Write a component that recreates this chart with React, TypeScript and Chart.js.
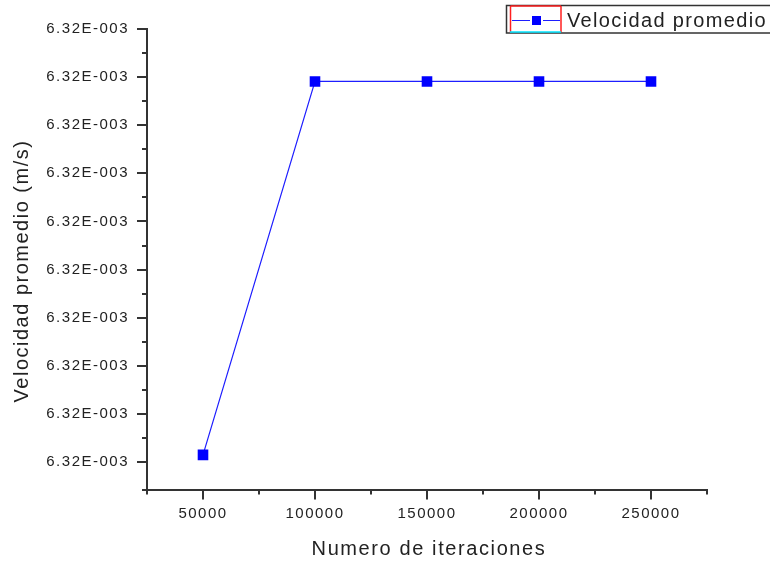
import React, { useEffect, useRef } from "react";
import { Chart, registerables } from "chart.js";
Chart.register(...registerables);

const iterations = [50000, 100000, 150000, 200000, 250000];
const velocity = [0.00632000015, 0.00632000791, 0.00632000791, 0.00632000791, 0.00632000791];
const seriesLabel = "Velocidad promedio";
const xTitle = "Numero de iteraciones";
const yTitle = "Velocidad promedio (m/s)";
const xTicks = [50000, 100000, 150000, 200000, 250000];
const xMinorTicks = [25000, 75000, 125000, 175000, 225000, 275000];
const yTicks = [
  0.00632, 0.006320001, 0.006320002, 0.006320003, 0.006320004,
  0.006320005, 0.006320006, 0.006320007, 0.006320008, 0.006320009,
];
const yMinorTicks = [
  0.00631999943, 0.0063200005, 0.0063200015, 0.0063200025, 0.0063200035,
  0.0063200045, 0.0063200055, 0.0063200065, 0.0063200075, 0.0063200085,
];
const X_MIN = 25000;
const X_MAX = 275000;
const Y_MIN = 0.00631999943;
const Y_MAX = 0.006320009;

const FONT = '"Liberation Sans", Arial, sans-serif';
const AXIS_COLOR = "#333333";
const TEXT_COLOR = "#222222";

function formatOrigin(v: number): string {
  const s = v.toExponential(2);
  const [m, e] = s.split("e");
  const exp = parseInt(e, 10);
  const sign = exp < 0 ? "-" : "+";
  return m.toUpperCase() + "E" + sign + String(Math.abs(exp)).padStart(3, "0");
}

const decorPlugin = {
  id: "decor",
  beforeLayout(chart: any) {
    chart.ctx.letterSpacing = "1.5px";
  },
  beforeDraw(chart: any) {
    const ctx = chart.ctx;
    ctx.save();
    ctx.fillStyle = "#ffffff";
    ctx.fillRect(0, 0, chart.width, chart.height);
    ctx.restore();
    ctx.letterSpacing = "1.5px";
  },
  afterDraw(chart: any) {
    const ctx = chart.ctx;
    const area = chart.chartArea;
    const xs = chart.scales.x;
    const ys = chart.scales.y;
    ctx.save();
    // minor ticks
    ctx.strokeStyle = AXIS_COLOR;
    ctx.lineWidth = 2;
    ctx.beginPath();
    for (const v of xMinorTicks) {
      const px = Math.round(xs.getPixelForValue(v));
      ctx.moveTo(px, area.bottom);
      ctx.lineTo(px, area.bottom + 5);
    }
    for (const v of yMinorTicks) {
      if (v < Y_MIN || v > Y_MAX) continue;
      const py = Math.round(ys.getPixelForValue(v));
      ctx.moveTo(area.left, py);
      ctx.lineTo(area.left - 5, py);
    }
    ctx.stroke();

    // axis titles
    ctx.fillStyle = TEXT_COLOR;
    ctx.font = "20px " + FONT;
    ctx.letterSpacing = "1.6px";
    ctx.textAlign = "center";
    ctx.textBaseline = "alphabetic";
    ctx.fillText(xTitle, (area.left + area.right) / 2 + 2, 555);
    ctx.save();
    ctx.translate(28, 271);
    ctx.rotate(-Math.PI / 2);
    ctx.letterSpacing = "1.5px";
    ctx.fillText(yTitle, 0, 0);
    ctx.restore();

    // legend
    const ds = chart.data.datasets[0];
    ctx.lineWidth = 1.5;
    ctx.strokeStyle = "#333333";
    ctx.strokeRect(506.5, 5.5, 280, 27.5);
    ctx.lineWidth = 1.5;
    ctx.strokeStyle = "#ff2020";
    ctx.beginPath();
    ctx.moveTo(510.5, 6);
    ctx.lineTo(510.5, 32);
    ctx.moveTo(510.5, 6);
    ctx.lineTo(561, 6);
    ctx.moveTo(561, 6);
    ctx.lineTo(561, 32);
    ctx.stroke();
    ctx.strokeStyle = "#00e5ff";
    ctx.beginPath();
    ctx.moveTo(510, 32);
    ctx.lineTo(561, 32);
    ctx.stroke();
    ctx.strokeStyle = ds.borderColor;
    ctx.lineWidth = 1.2;
    ctx.beginPath();
    ctx.moveTo(512, 20.5);
    ctx.lineTo(530, 20.5);
    ctx.moveTo(543, 20.5);
    ctx.lineTo(560, 20.5);
    ctx.stroke();
    ctx.fillStyle = ds.pointBackgroundColor;
    ctx.fillRect(532, 16, 9, 9);
    ctx.fillStyle = TEXT_COLOR;
    ctx.textAlign = "left";
    ctx.letterSpacing = "1.35px";
    ctx.font = "20px " + FONT;
    ctx.fillText(ds.label, 567, 27);
    ctx.restore();
    ctx.letterSpacing = "1.5px";
  },
};

export default function App() {
  const ref = useRef<HTMLCanvasElement | null>(null);
  useEffect(() => {
    if (!ref.current) return;
    const chart = new Chart(ref.current, {
      type: "line",
      data: {
        datasets: [
          {
            label: seriesLabel,
            data: iterations.map((x, i) => ({ x, y: velocity[i] })),
            borderColor: "rgb(30,30,255)",
            borderWidth: 1.2,
            pointStyle: "rect",
            pointRadius: 7.5,
            pointHoverRadius: 7.5,
            pointBackgroundColor: "#0000ff",
            pointBorderColor: "#0000ff",
            pointBorderWidth: 0,
            tension: 0,
            fill: false,
          },
        ],
      },
      options: {
        animation: false,
        responsive: true,
        maintainAspectRatio: false,
        layout: { padding: { top: 29, right: 63, left: 0, bottom: 0 } },
        plugins: {
          legend: { display: false },
          tooltip: { enabled: false },
          title: { display: false },
        },
        scales: {
          x: {
            type: "linear",
            min: X_MIN,
            max: X_MAX,
            afterBuildTicks: (s: any) => {
              s.ticks = xTicks.map((v) => ({ value: v }));
            },
            afterFit: (s: any) => {
              s.height = 73.5;
            },
            grid: {
              display: true,
              drawOnChartArea: false,
              drawTicks: true,
              tickLength: 10,
              lineWidth: 2,
              tickWidth: 2,
              color: AXIS_COLOR,
              tickColor: AXIS_COLOR,
            },
            border: { display: true, color: AXIS_COLOR, width: 2 },
            ticks: {
              autoSkip: false,
              maxRotation: 0,
              minRotation: 0,
              padding: 5,
              color: TEXT_COLOR,
              font: { family: FONT, size: 15 },
              callback: (v: any) => String(v),
            },
          },
          y: {
            type: "linear",
            min: Y_MIN,
            max: Y_MAX,
            afterBuildTicks: (s: any) => {
              s.ticks = yTicks.map((v) => ({ value: v }));
            },
            afterFit: (s: any) => {
              s.width = 147;
            },
            grid: {
              display: true,
              drawOnChartArea: false,
              drawTicks: true,
              tickLength: 10,
              lineWidth: 2,
              tickWidth: 2,
              color: AXIS_COLOR,
              tickColor: AXIS_COLOR,
            },
            border: { display: true, color: AXIS_COLOR, width: 2 },
            ticks: {
              autoSkip: false,
              padding: 8,
              color: TEXT_COLOR,
              font: { family: FONT, size: 15 },
              callback: (v: any) => formatOrigin(Number(v)),
            },
          },
        },
      },
      plugins: [decorPlugin],
    });
    return () => chart.destroy();
  }, []);
  return (
    <div style={{ position: "fixed", left: 0, top: 0, width: 770, height: 563, background: "#fff" }}>
      <canvas ref={ref} />
    </div>
  );
}
